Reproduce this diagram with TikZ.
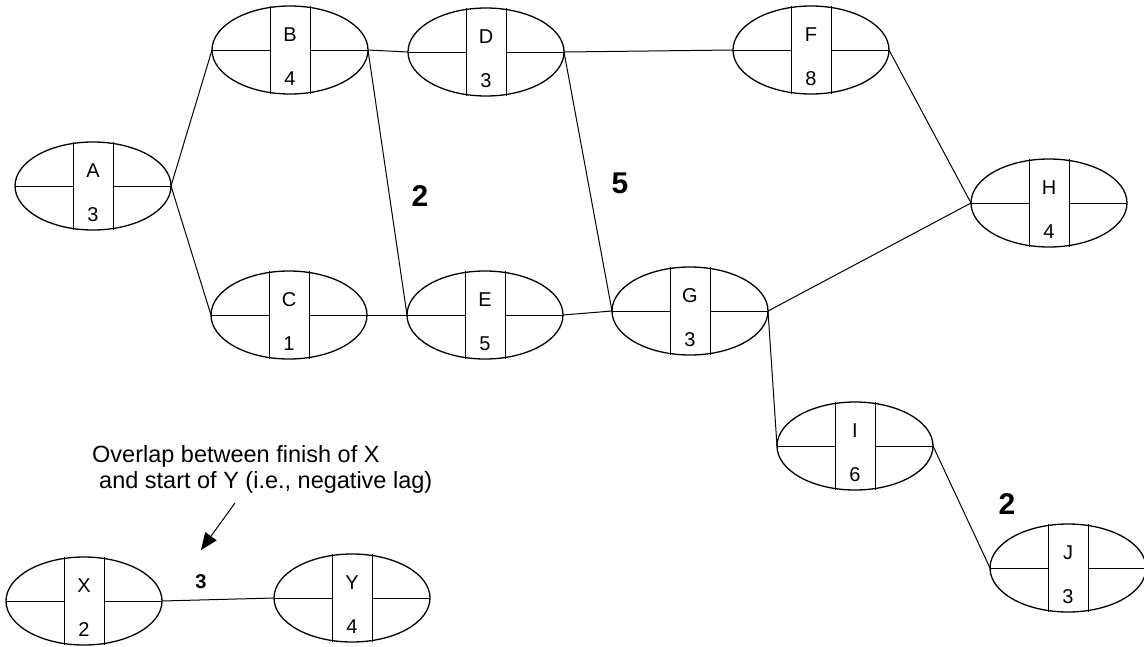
\documentclass[tikz,border=0pt]{standalone}
\usepackage{fontspec}
\setmainfont{Liberation Sans}
\usetikzlibrary{shapes.geometric,arrows.meta}

% one activity: name, position, letter, duration
\newcommand{\activity}[4]{%
  \node[act] (#1) at (#2) {};
  \draw[part] ([xshift=-20pt]#1.north) -- ([xshift=-20pt]#1.south);
  \draw[part] ([xshift=20pt]#1.north) -- ([xshift=20pt]#1.south);
  \draw[part] (#1.west) -- ([xshift=-20pt]#1.center);
  \draw[part] ([xshift=20pt]#1.center) -- (#1.east);
  \node[actlbl] (#1t) at ([yshift=15pt]#1.center) {#3};
  \node[actlbl] (#1d) at ([yshift=-29pt]#1.center) {#4};
}

\begin{document}
\begin{tikzpicture}[x=1pt,y=-1pt,
    act/.style={ellipse,draw,line width=1.3pt,minimum width=156pt,minimum height=88pt,inner sep=0pt,outer sep=0pt},
    part/.style={line width=1pt},
    link/.style={line width=1pt},
    actlbl/.style={font=\fontsize{20}{22}\selectfont,inner sep=0pt},
    lag/.style={font=\fontsize{30}{32}\selectfont\bfseries,inner sep=0pt},
    smalllag/.style={font=\fontsize{20}{22}\selectfont\bfseries,inner sep=0pt},
    note/.style={font=\fontsize{23.5}{26}\selectfont,align=left,inner sep=0pt}]
  \useasboundingbox (0,0) rectangle (1144,646);

  \activity{A}{93,186}{A}{3}
  \activity{B}{290,50}{B}{4}
  \activity{D}{486,52}{D}{3}
  \activity{F}{811,50}{F}{8}
  \activity{H}{1049,203}{H}{4}
  \activity{C}{289,315}{C}{1}
  \activity{E}{485,315}{E}{5}
  \activity{G}{690,311}{G}{3}
  \activity{I}{855,446}{I}{6}
  \activity{J}{1068,568}{J}{3}
  \activity{X}{84,601}{X}{2}
  \activity{Y}{352,598}{Y}{4}

  \draw[link] (A.east) -- (B.west);
  \draw[link] (A.east) -- (C.west);
  \draw[link] (B.east) -- (D.west);
  \draw[link] (B.east) -- (E.west);
  \draw[link] (C.east) -- (E.west);
  \draw[link] (D.east) -- (F.west);
  \draw[link] (D.east) -- (G.west);
  \draw[link] (E.east) -- (G.west);
  \draw[link] (F.east) -- (H.west);
  \draw[link] (G.east) -- (H.west);
  \draw[link] (G.east) -- (I.west);
  \draw[link] (I.east) -- (J.west);
  \draw[link] (X.east) -- (Y.west);

  \node[lag] (lagBE) at (420,196) {2};
  \node[lag] (lagDG) at (620,183) {5};
  \node[lag] (lagIJ) at (1007,504) {2};
  \node[smalllag] (lagXY) at (201,582) {3};

  \node[note,anchor=north west] (overlap) at (92,445) {Overlap between finish of X\\\hspace*{7pt}and start of Y (i.e., negative lag)};
  \coordinate (arrS) at (235,503);
  \coordinate (arrE) at (201,550);
  \draw[link,-{Triangle[length=17pt,width=14pt]}] (arrS) -- (arrE);
\end{tikzpicture}
\end{document}
